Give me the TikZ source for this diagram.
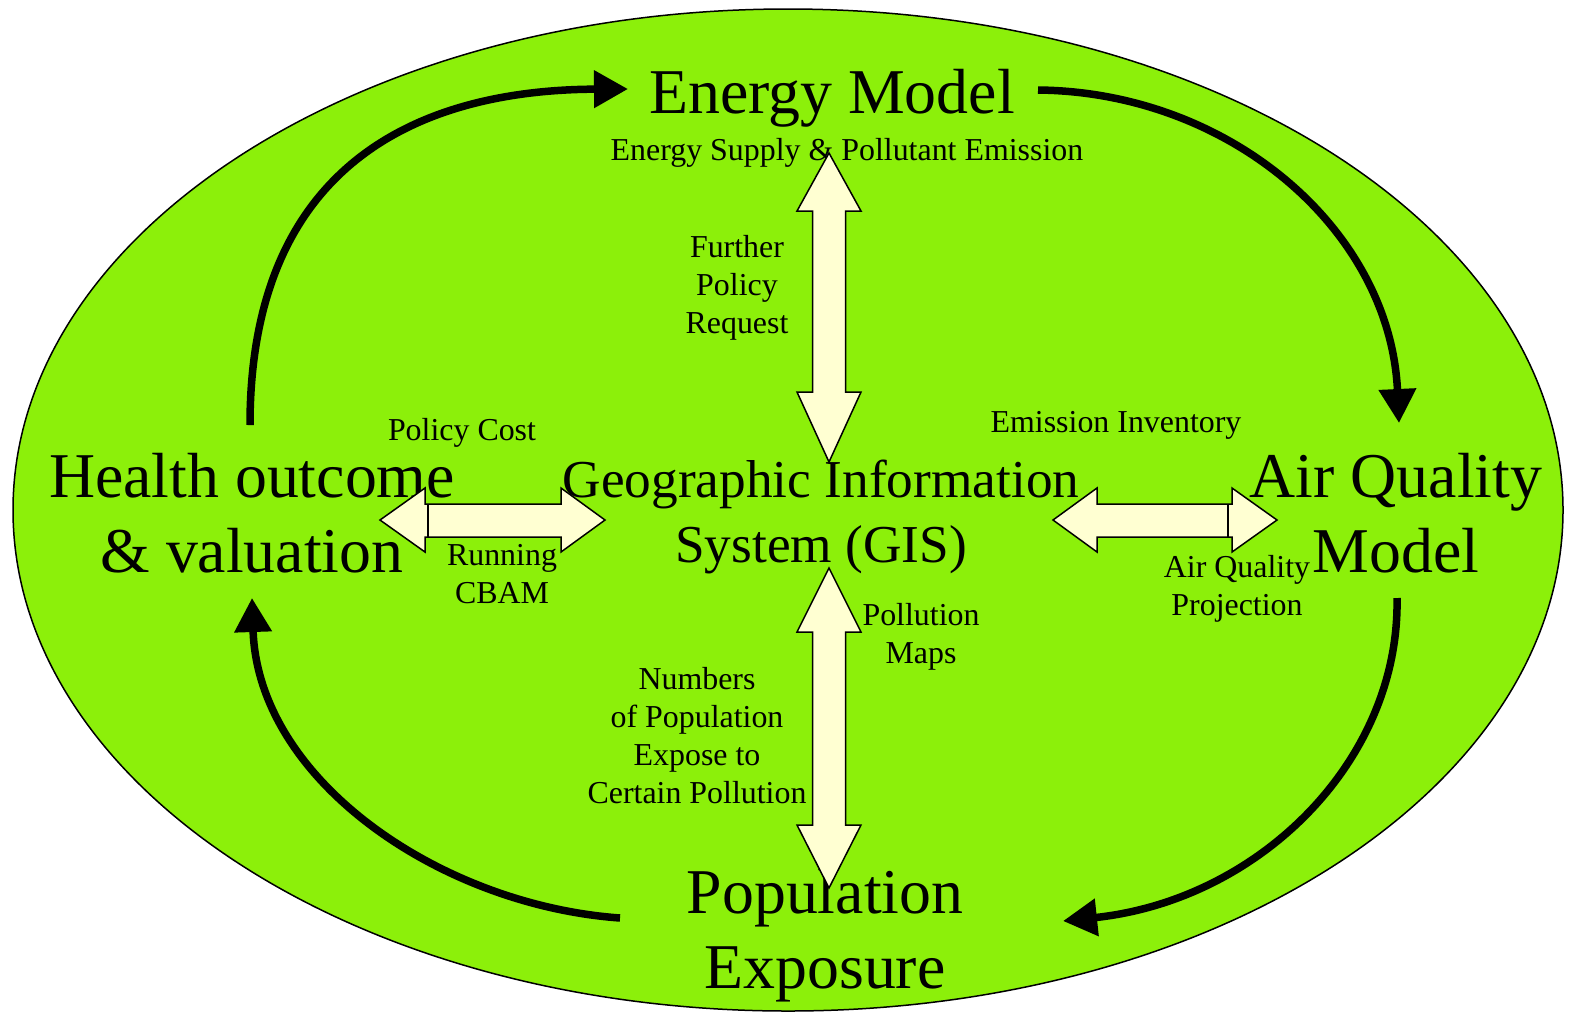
\documentclass[tikz,border=0pt]{standalone}
\usepackage{fontspec}
\setmainfont{Liberation Serif}
\usetikzlibrary{arrows.meta}
\definecolor{field}{RGB}{140,240,10}
\definecolor{cream}{RGB}{255,255,210}

\begin{document}
\begin{tikzpicture}[x=1pt,y=-1pt,
  big/.style={font=\fontsize{63.8}{75}\selectfont, align=center, anchor=base, inner sep=0pt},
  mid/.style={font=\fontsize{53.3}{65}\selectfont, align=center, anchor=base, inner sep=0pt},
  small/.style={font=\fontsize{31.9}{38}\selectfont, align=center, anchor=base, inner sep=0pt},
  cycleflow/.style={line width=7.5pt, -{Triangle[length=34pt,width=36pt]}},
  block/.style={draw=black, line width=1.5pt, fill=cream, line join=miter}]
\useasboundingbox (0,0) rectangle (1570,1013);

% background field
\path[draw=black, line width=1.5pt, fill=field] (788,510) ellipse [x radius=775, y radius=501];

% labels (multi-line labels are placed by the baseline of their last line)
\node[big]   (energy)     at (832,113) {Energy Model};
\node[small] (supply)     at (847,160) {Energy Supply \& Pollutant Emission};
\node[small] (further)    at (737,333) {Further\\Policy\\Request};
\node[small] (cost)       at (462,440) {Policy Cost};
\node[small] (inventory)  at (1116,432) {Emission Inventory};
\node[big]   (health)     at (252,572) {Health outcome\\\& valuation};
\node[mid]   (gis)        at (821,562) {Geographic Information\\System (GIS)};
\node[big]   (air)        at (1396,572) {Air Quality\\Model};
\node[small] (cbam)       at (502,603) {Running\\CBAM};
\node[small] (projection) at (1237,615) {Air Quality\\Projection};
\node[small] (maps)       at (921,663) {Pollution\\Maps};
\node[small] (numbers)    at (697,803) {Numbers\\of Population\\Expose to\\Certain Pollution};
\node[big]   (population) at (825,988) {Population\\Exposure};

% end points of the outer cycle
\coordinate (hs) at (250,425);  \coordinate (ee) at (628,89);
\coordinate (es) at (1038,90);  \coordinate (ae) at (1399,423);
\coordinate (as) at (1397,598); \coordinate (pe) at (1063,921);
\coordinate (ps) at (620,918);  \coordinate (he) at (252,598);

\draw[cycleflow] (hs) .. controls (250,180) and (400,90) .. (ee);
\draw[cycleflow] (es) .. controls (1230,92) and (1390,230) .. (ae);
\draw[cycleflow] (as) .. controls (1400,760) and (1260,900) .. (pe);
\draw[cycleflow] (ps) .. controls (440,905) and (258,780) .. (he);

% double block arrows around the GIS hub
\draw[block] (829,153) -- (861,211) -- (845.5,211) -- (845.5,392) -- (861,392) -- (829,462)
  -- (797,392) -- (812.5,392) -- (812.5,211) -- (797,211) -- cycle;
\draw[block] (829,568) -- (861,632) -- (845.5,632) -- (845.5,825) -- (861,825) -- (829,888)
  -- (797,825) -- (812.5,825) -- (812.5,632) -- (797,632) -- cycle;
\draw[block] (380,520) -- (425,488) -- (425,504) -- (561,504) -- (561,488) -- (605,520)
  -- (561,552) -- (561,537) -- (425,537) -- (425,552) -- cycle;
\draw[line width=1.5pt] (428,504) -- (428,537);
\draw[block] (1053,520) -- (1097,488) -- (1097,504) -- (1232,504) -- (1232,488) -- (1277,520)
  -- (1232,552) -- (1232,537) -- (1097,537) -- (1097,552) -- cycle;
\draw[line width=1.5pt] (1228,504) -- (1228,537);
\end{tikzpicture}
\end{document}
